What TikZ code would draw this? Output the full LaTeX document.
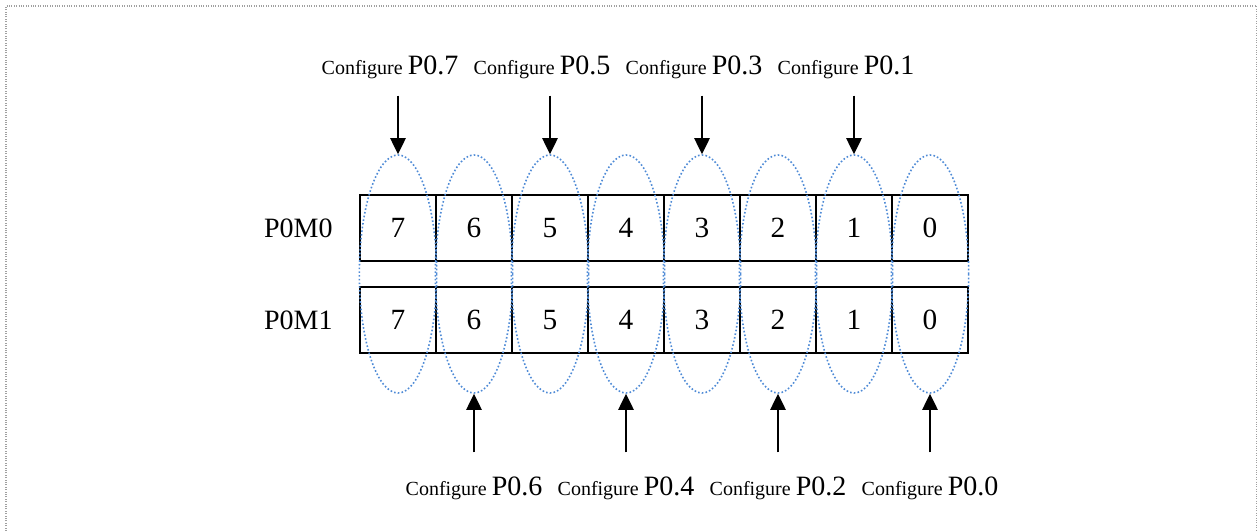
\documentclass[tikz,border=0pt]{standalone}
\usepackage{fontspec}
\setmainfont{Liberation Serif}
\usetikzlibrary{positioning, arrows.meta, shapes.geometric, calc}
\definecolor{bitblue}{HTML}{4F8BD6}
\definecolor{frame50}{HTML}{A0A0A0}
\newcommand{\pinname}[1]{{\fontsize{21}{25}\selectfont P0.#1}}

\begin{document}
\begin{tikzpicture}[
    cell/.style={draw, line width=1pt, minimum width=57pt, minimum height=49.5pt, outer sep=0pt, inner sep=0pt, font=\fontsize{22}{26}\selectfont},
    reg/.style={font=\fontsize{21}{25}\selectfont},
    pin/.style={ellipse, draw=bitblue, line width=1.2pt, dash pattern=on 1.2pt off 1.6pt, minimum width=58pt, minimum height=178.5pt, inner sep=0pt},
    cfg/.style={anchor=base, inner sep=0pt, font=\fontsize{15}{18}\selectfont},
    arr/.style={-{Triangle[length=12pt, width=11.5pt]}, line width=1.2pt}
]
\useasboundingbox (0,0) rectangle (943.5pt,-398.25pt);

% outer frame
\draw[frame50, densely dotted, line width=0.8pt] (4.5pt,-398.25pt) |- (942.5pt,-4.5pt) -- (942.5pt,-398.25pt);

% P0M0
\node[cell] (m0-7) at (298.5pt,-171pt) {7};
\foreach \i [remember=\i as \prev (initially 7)] in {6,...,0}
    \node[cell, right=0pt of m0-\prev] (m0-\i) {\i};
\node[reg, left=17pt of m0-7] (p0m0) {P0M0};

% P0M1
\node[cell, below=19.5pt of m0-7] (m1-7) {7};
\foreach \i [remember=\i as \prev (initially 7)] in {6,...,0}
    \node[cell, right=0pt of m1-\prev] (m1-\i) {\i};
\node[reg, left=17pt of m1-7] (p0m1) {P0M1};

% pin groups
\foreach \i in {7,...,0}
    \node[pin] (e\i) at ($(m0-\i)!0.5!(m1-\i)$) {};

% odd pins, from above
\foreach \i in {7,5,3,1} {
    \coordinate[above=44pt of e\i.north] (t\i);
    \draw[arr] (t\i) -- (e\i.north);
    \node[cfg] (l\i) at ([shift={(-6pt,15.5pt)}]t\i) {Configure \pinname{\i}};
}

% even pins, from below
\foreach \i in {6,4,2,0} {
    \coordinate[below=44pt of e\i.south] (b\i);
    \draw[arr] (b\i) -- (e\i.south);
    \node[cfg] (l\i) at ([yshift=-32pt]b\i) {Configure \pinname{\i}};
}

\end{tikzpicture}
\end{document}
